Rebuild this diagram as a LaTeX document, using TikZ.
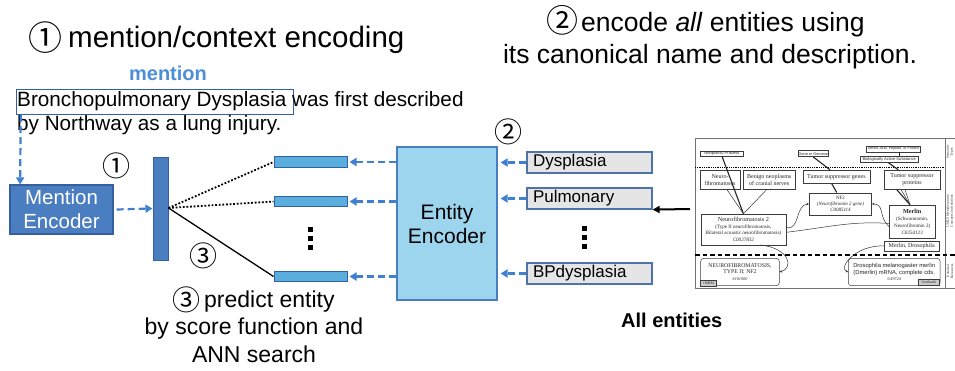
\documentclass[tikz,border=0pt]{standalone}
\usepackage{fontspec}
\setmainfont{Liberation Sans}
\newfontfamily\circfont{Noto Sans CJK JP}
\newfontfamily\umserif{Liberation Serif}
\usetikzlibrary{arrows.meta}
\definecolor{encblue}{RGB}{74,126,193}
\definecolor{encborder}{RGB}{52,95,160}
\definecolor{vecfill}{RGB}{90,174,222}
\definecolor{entfill}{RGB}{157,213,238}
\definecolor{dashblue}{RGB}{63,128,208}
\definecolor{mentionblue}{RGB}{76,143,216}
\definecolor{boxgray}{RGB}{229,229,229}
\definecolor{boxborder}{RGB}{79,114,168}
\definecolor{umline}{RGB}{60,60,60}
\tikzset{
  dasharrow/.style={draw=dashblue, line width=2.2pt, dash pattern=on 7pt off 4pt,
    -{Triangle[length=7pt,width=8pt]}},
  encbox/.style={draw=encborder, line width=1.2pt, fill=encblue, text=white,
    align=center, inner sep=0pt, font=\fontsize{20.5}{24}\selectfont},
  vecbar/.style={draw=encborder, line width=1pt, fill=encblue, inner sep=0pt},
  vecsmall/.style={draw=encborder, line width=1pt, fill=vecfill, inner sep=0pt,
    minimum width=73pt, minimum height=10.5pt},
  entenc/.style={draw=encblue, line width=1.2pt, fill=entfill, align=center,
    inner sep=0pt, font=\fontsize{21}{24}\selectfont},
  entbox/.style={draw=boxborder, line width=1.2pt, fill=boxgray, inner xsep=6pt,
    inner ysep=0pt, text width=113pt, align=left, minimum height=21pt,
    font=\fontsize{17}{20}\selectfont},
  circnum/.style={inner sep=0pt, font=\circfont\fontsize{28}{28}\selectfont},
  um/.style={draw=umline, line width=0.5pt, inner sep=0pt, align=center,
    text=black!85, font=\umserif\fontsize{6}{7}\selectfont},
  umsm/.style={draw=umline, line width=0.5pt, inner sep=0pt, align=center,
    text=black!85, font=\fontsize{4.1}{4.8}\selectfont},
  umthick/.style={draw=black!85, line width=1.1pt},
  umthin/.style={draw=black!80, line width=0.5pt},
  umcurve/.style={draw=black!80, line width=0.5pt, -{Stealth[length=2.5pt,width=2.2pt]}},
}
\begin{document}
\begin{tikzpicture}[x=1pt,y=-1pt]
\useasboundingbox (0,0) rectangle (955,370);
\fill[white] (0,0) rectangle (955,370);

% ---- titles
\node[circnum, font=\circfont\fontsize{34}{34}\selectfont] (t1num) at (45,37.5) {①};
\node[anchor=base west, inner sep=0pt, font=\fontsize{29.5}{34}\selectfont] (t1) at (68,47) {mention/context encoding};
\node[circnum, font=\circfont\fontsize{32}{32}\selectfont] (t2num) at (562.5,20) {②};
\node[anchor=base west, inner sep=0pt, font=\fontsize{26.5}{32}\selectfont] (t2a) at (581,31) {encode \textit{all} entities using};
\node[anchor=base, inner sep=0pt, font=\fontsize{26.5}{32}\selectfont] (t2b) at (710,63) {its canonical name and description.};

% ---- sentence with mention
\node[anchor=base, inner sep=0pt, text=mentionblue, font=\bfseries\fontsize{20}{24}\selectfont] (mlabel) at (168,80) {mention};
\node[draw=encborder, line width=1.2pt, anchor=north west, minimum width=277pt, minimum height=25pt, inner sep=0pt] (mbox) at (15.5,89) {};
\node[anchor=base west, inner sep=0pt, font=\fontsize{20.7}{24}\selectfont] (s1) at (17,106) {Bronchopulmonary Dysplasia was first described};
\node[anchor=base west, inner sep=0pt, font=\fontsize{20.7}{24}\selectfont] (s2) at (17,130) {by Northway as a lung injury.};

% ---- mention encoder
\node[encbox, minimum width=103pt, minimum height=49pt] (menc) at (61.5,209.5) {Mention\\Encoder};
\draw[dasharrow] ([xshift=5.2pt]mbox.south west) -- ([xshift=10.7pt]menc.north west);
\node[vecbar, minimum width=15pt, minimum height=103pt] (mvec) at (160.5,208.5) {};
\draw[dasharrow] ([xshift=3pt]menc.east) -- (mvec.west);
\node[circnum] (n1) at (116.3,166.3) {①};

% ---- entity vectors
\node[vecsmall] (v1) at (310.5,162) {};
\node[vecsmall] (v2) at (310.5,201.5) {};
\node[vecsmall] (v3) at (310.5,276.5) {};
\fill (307.5,227) rectangle ++(5,5);
\fill (307.5,236) rectangle ++(5,5);
\fill (307.5,245) rectangle ++(5,5);
\draw[line width=1.8pt, dash pattern=on 1.8pt off 1.8pt] ([yshift=0.5pt]mvec.east) -- (v1.west);
\draw[line width=1.8pt, dash pattern=on 1.8pt off 1.8pt] ([yshift=0.5pt]mvec.east) -- (v2.west);
\draw[line width=1.3pt] ([yshift=0.5pt]mvec.east) -- (v3.west);
\node[circnum] (n3) at (203.3,256) {③};

% ---- entity encoder
\node[entenc, minimum width=100pt, minimum height=153pt] (eenc) at (447,223.5) {Entity\\Encoder};
\draw[dasharrow, shorten >=2pt] (eenc.west |- v1) -- (v1.east);
\draw[dasharrow, shorten >=2pt] (eenc.west |- v2) -- (v2.east);
\draw[dasharrow, shorten >=2pt] (eenc.west |- v3) -- (v3.east);
\node[circnum] (n2) at (508.7,132.3) {②};

% ---- entity names
\node[entbox] (e1) at (589.5,162.5) {Dysplasia};
\node[entbox] (e2) at (589.5,198.5) {Pulmonary};
\node[entbox] (e3) at (589.5,273.5) {BPdysplasia};
\fill (582,226) rectangle ++(5,5);
\fill (582,235) rectangle ++(5,5);
\fill (582,244) rectangle ++(5,5);
\draw[dasharrow, shorten >=3pt] (e1.west) -- (e1.west -| eenc.east);
\draw[dasharrow, shorten >=3pt] (e2.west) -- (e2.west -| eenc.east);
\draw[dasharrow, shorten >=3pt] (e3.west) -- (e3.west -| eenc.east);

% ---- prediction text
\node[circnum, font=\circfont\fontsize{28}{28}\selectfont] (p1num) at (186.5,300) {③};
\node[anchor=base west, inner sep=0pt, font=\fontsize{23}{27}\selectfont] (p1) at (204,307) {predict entity};
\node[anchor=base, inner sep=0pt, font=\fontsize{23}{27}\selectfont] (p2) at (254,334) {by score function and};
\node[anchor=base, inner sep=0pt, font=\fontsize{23}{27}\selectfont] (p3) at (254,362) {ANN search};

% ---- UMLS figure
\draw[draw=black!55, line width=0.6pt] (960,138) -- (695,138) -- (695,288) -- (960,288);
\draw[draw=black!55, line width=0.6pt] (945,138) -- (945,288);
\draw[line width=0.8pt, dash pattern=on 0.9pt off 0.9pt] (695,167) -- (945,167);
\draw[line width=1.1pt, dash pattern=on 4.5pt off 3pt] (695,255) -- (960,255);
\node[rotate=90, inner sep=0pt, font=\umserif\fontsize{3.6}{4}\selectfont, text=black!80, align=center] (lab1) at (950,152) {Semantic\\Types};
\node[rotate=90, inner sep=0pt, font=\umserif\fontsize{3.6}{4}\selectfont, text=black!80, align=center] (lab2) at (950,211) {UMLS Metathesaurus:\\Concepts and relations};
\node[rotate=90, inner sep=0pt, font=\umserif\fontsize{3.6}{4}\selectfont, text=black!80, align=center] (lab3) at (950,271) {External\\Resources};

\node[umsm, minimum width=42.6pt, minimum height=5.3pt] (np) at (722,153.4) {Neoplastic Process};
\node[umsm, minimum width=30pt, minimum height=6pt, font=\fontsize{3.8}{4.5}\selectfont] (gg) at (813.3,153.7) {Gene or Genome};
\node[umsm, minimum width=54pt, minimum height=5.7pt, font=\fontsize{3.7}{4.5}\selectfont] (aa) at (893.7,148.9) {Amino Acid, Peptide, or Protein};
\node[umsm, minimum width=58.3pt, minimum height=5.6pt] (bas) at (889.2,159.5) {Biologically Active Substance};

\node[um, minimum width=40pt, minimum height=19.3pt] (nf) at (720,179.7) {Neuro-\\fibromatoses};
\node[um, minimum width=51.7pt, minimum height=19.3pt] (bn) at (769.2,179.7) {Benign neoplasms\\of cranial nerves};
\node[um, minimum width=67.3pt, minimum height=13.3pt] (tsg) at (836.4,176.7) {Tumor suppressor genes};
\node[um, minimum width=56pt, minimum height=19.3pt] (tsp) at (912,179.7) {Tumor suppressor\\proteins};
\node[um, minimum width=62.4pt, minimum height=22.3pt, font=\umserif\fontsize{5}{6.2}\selectfont] (nf2) at (840.5,203.9) {NF2\\\textit{(Neurofibromin 2 gene)}\\\textit{C0085114}};
\node[um, minimum width=85.3pt, minimum height=31pt, font=\umserif\fontsize{5.1}{6.6}\selectfont] (nfm2) at (743.4,229.5) {{\fontsize{6.2}{6.6}\selectfont Neurofibromatosis 2}\\(Type II neurofibromatosis,\\Bilateral acoustic neurofibromatosis)\\\textit{C0027832}};
\node[um, minimum width=45.7pt, minimum height=33.3pt, font=\umserif\fontsize{5.1}{6.8}\selectfont] (mer) at (912.2,221.7) {{\bfseries\fontsize{6.2}{6.8}\selectfont Merlin}\\(Schwannomin,\\Neurofibromin 2)\\\textit{C0254123}};
\node[um, minimum width=55.3pt, minimum height=10.3pt] (merd) at (911.7,245.9) {Merlin, Drosophila};
\node[um, rounded corners=3pt, minimum width=78.6pt, minimum height=27.4pt, font=\umserif\fontsize{5.8}{6.8}\selectfont] (omimbox) at (740,272) {NEUROFIBROMATOSIS,\\TYPE II; NF2\\{\itshape\fontsize{4.2}{5.5}\selectfont \#101000}};
\node[um, rounded corners=3pt, minimum width=91.7pt, minimum height=27.4pt, font=\fontsize{5.8}{6.8}\selectfont] (dros) at (894.2,272) {Drosophila melanogaster merlin\\(Dmerlin) mRNA, complete cds.\\{\umserif\itshape\fontsize{4.2}{5.5}\selectfont U49724}};
\node[umsm, fill=black!20, minimum width=16pt, minimum height=5.7pt, font=\umserif\fontsize{3.8}{4}\selectfont] (omim) at (708.7,282.9) {OMIM};
\node[umsm, fill=black!20, minimum width=21pt, minimum height=6.4pt, font=\umserif\fontsize{4}{4}\selectfont] (gbank) at (928.8,282.5) {Genbank};

\draw[umthick] (np.south) -- (nfm2.north);
\draw[umthin] ([xshift=7pt]nf.south) -- (nfm2.north);
\draw[umthin] ([xshift=-2.5pt]bn.south) -- (nfm2.north);
\draw[umthick] (gg.south) -- ([xshift=-6.4pt]tsg.north);
\draw[umthick] ([xshift=-4.7pt]tsg.south) -- ([xshift=-3.8pt]nf2.north);
\draw[umthick] ([xshift=6pt]aa.south) -- ([xshift=10.5pt]bas.north);
\draw[umthick] ([xshift=-1pt]bas.south) -- ([xshift=-13.7pt]tsp.north);
\draw[umthick] ([xshift=-15.3pt]tsp.south) -- ([xshift=-2.2pt]mer.north);
\draw[umthin] ([xshift=-11pt]tsp.south) -- ([xshift=-2.2pt]mer.north);
\draw[umthin] ([xshift=-7pt]tsp.south) -- ([xshift=-2.2pt]mer.north);

\draw[umcurve] ([yshift=2pt]nfm2.east) .. controls (800,231) and (795,205) .. (nf2.west);
\draw[umcurve] ([yshift=-5pt]mer.west) .. controls (878,217) and (885,204) .. (nf2.east);
\draw[umthin] ([yshift=-1.7pt]mer.west) .. controls (850,221) and (830,227) .. ([yshift=-2.8pt]nfm2.east);
\draw[umcurve] (760,245) .. controls (790,248) and (794,268) .. (omimbox.east);
\draw[umcurve] (merd.west) .. controls (855,245) and (838,268) .. (dros.west);

% ---- arrow from all entities and caption
\coordinate (afrom) at (690,209);
\draw[line width=2pt, -{Triangle[length=7pt,width=7pt]}] (afrom) -- (e2.south east);
\node[anchor=base west, inner sep=0pt, font=\bfseries\fontsize{20}{24}\selectfont] (allent) at (621,327) {All entities};
\end{tikzpicture}
\end{document}
